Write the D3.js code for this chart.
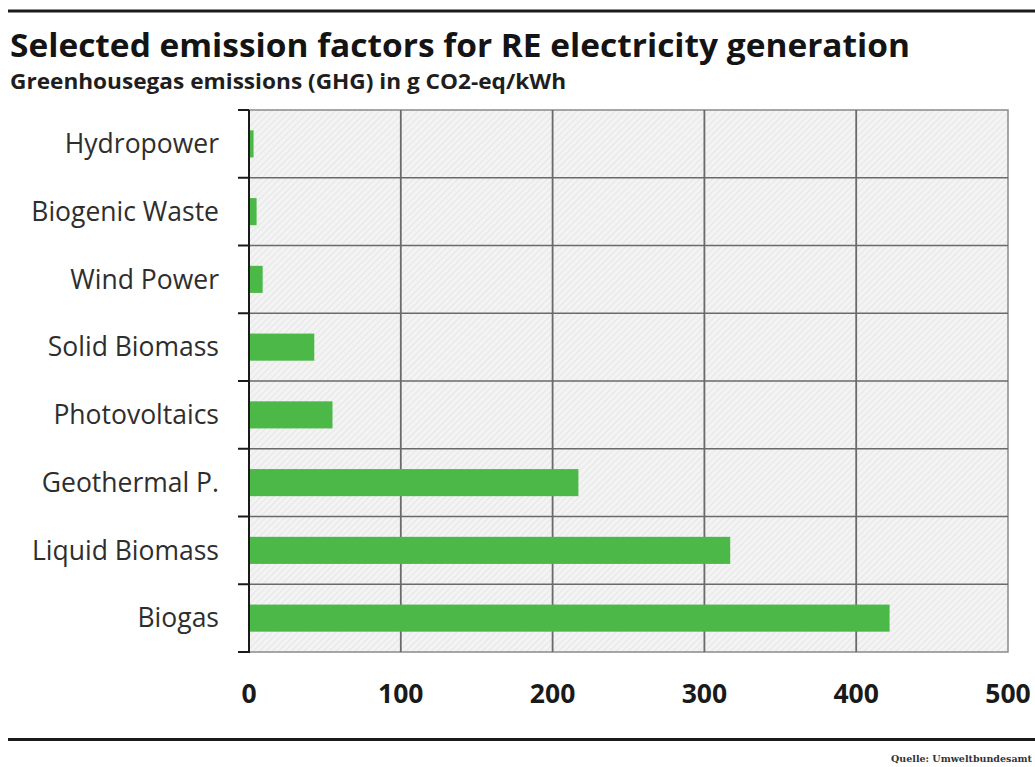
<!DOCTYPE html>
<html>
<head>
<meta charset="utf-8">
<script src="https://cdn.jsdelivr.net/npm/d3@7"></script>
<style>
  html, body { margin: 0; padding: 0; background: #fff; }
  svg { display: block; }
</style>
</head>
<body>
<svg id="chart" width="1035" height="767"></svg>
<script>
// Greenhouse gas emission factors by renewable source, g CO2-eq/kWh
const categories = ["Hydropower", "Biogenic Waste", "Wind Power", "Solid Biomass",
                    "Photovoltaics", "Geothermal P.", "Liquid Biomass", "Biogas"];
const emissions = [3, 5, 9, 43, 55, 217, 317, 422];
const xTicks = [0, 100, 200, 300, 400, 500];

const titleText = "Selected emission factors for RE electricity generation";
const subtitleText = "Greenhousegas emissions (GHG) in g CO2-eq/kWh";
const sourceText = "Quelle: Umweltbundesamt";

const svg = d3.select("#chart");
const plot = { left: 249, right: 1008, top: 110, bottom: 652 };

const x = d3.scaleLinear().domain([0, 500]).range([plot.left, plot.right]);
const y = d3.scaleBand().domain(categories).range([plot.top, plot.bottom]).padding(0);

// diagonal hatch fill for the plot background
const defs = svg.append("defs");
const pat = defs.append("pattern")
  .attr("id", "hatch")
  .attr("patternUnits", "userSpaceOnUse")
  .attr("width", 4.5).attr("height", 4.5)
  .attr("patternTransform", "rotate(45)");
pat.append("rect").attr("width", 4.5).attr("height", 4.5).attr("fill", "#f3f3f3");
pat.append("line").attr("x1", 0).attr("y1", 0).attr("x2", 0).attr("y2", 4.5)
  .attr("stroke", "#dcdcdc").attr("stroke-width", 1.1);

// top and bottom rules
svg.append("rect").attr("x", 8).attr("y", 9.5).attr("width", 1027).attr("height", 3).attr("fill", "#1a1a1a");
svg.append("rect").attr("x", 8).attr("y", 738).attr("width", 1027).attr("height", 3).attr("fill", "#1a1a1a");

// headings
function fitText(sel, w) {
  sel.attr("textLength", w).attr("lengthAdjust", "spacingAndGlyphs");
}
svg.append("text").attr("x", 10).attr("y", 57)
  .attr("font-family", "'Open Sans', sans-serif").attr("font-weight", 700)
  .attr("font-size", 33).attr("fill", "#141414")
  .text(titleText).call(fitText, 900);
svg.append("text").attr("x", 10).attr("y", 89)
  .attr("font-family", "'Open Sans', sans-serif").attr("font-weight", 700)
  .attr("font-size", 21).attr("fill", "#1e1e1e")
  .text(subtitleText).call(fitText, 556);

// plot background
svg.append("rect")
  .attr("x", plot.left).attr("y", plot.top)
  .attr("width", plot.right - plot.left).attr("height", plot.bottom - plot.top)
  .attr("fill", "url(#hatch)")
  .attr("stroke", "#8a8a8a").attr("stroke-width", 1.5);

// horizontal row separators
svg.append("g").selectAll("line")
  .data(categories.slice(1))
  .join("line")
  .attr("x1", plot.left).attr("x2", plot.right)
  .attr("y1", d => y(d)).attr("y2", d => y(d))
  .attr("stroke", "#6a6a6a").attr("stroke-width", 1.5);

// vertical grid lines
svg.append("g").selectAll("line")
  .data(xTicks.slice(1, -1))
  .join("line")
  .attr("x1", d => x(d)).attr("x2", d => x(d))
  .attr("y1", plot.top).attr("y2", plot.bottom)
  .attr("stroke", "#6a6a6a").attr("stroke-width", 1.8);

// bars
const barH = y.bandwidth() * 0.4;
svg.append("g").selectAll("rect")
  .data(categories)
  .join("rect")
  .attr("x", x(0))
  .attr("y", d => y(d) + (y.bandwidth() - barH) / 2)
  .attr("width", (d, i) => x(emissions[i]) - x(0))
  .attr("height", barH)
  .attr("fill", "#4cb848");

// category axis on the left
const yAxis = svg.append("g").attr("transform", `translate(${plot.left},0)`);
yAxis.append("line")
  .attr("x1", 0).attr("x2", 0).attr("y1", plot.top).attr("y2", plot.bottom + 1)
  .attr("stroke", "#1a1a1a").attr("stroke-width", 2);
const boundaries = categories.map(d => y(d)).concat([plot.bottom]);
yAxis.selectAll(".tick-mark")
  .data(boundaries)
  .join("line")
  .attr("class", "tick-mark")
  .attr("x1", -11).attr("x2", 0)
  .attr("y1", d => d).attr("y2", d => d)
  .attr("stroke", "#1a1a1a").attr("stroke-width", 2);
yAxis.selectAll(".cat-label")
  .data(categories)
  .join("text")
  .attr("class", "cat-label")
  .attr("x", -30)
  .attr("y", d => y(d) + y.bandwidth() / 2)
  .attr("dy", "0.35em")
  .attr("text-anchor", "end")
  .attr("font-family", "'Open Sans', sans-serif")
  .attr("font-size", 26.5)
  .attr("fill", "#2e2e2e")
  .text(d => d);

// value axis labels
svg.append("g").selectAll("text")
  .data(xTicks)
  .join("text")
  .attr("x", d => x(d))
  .attr("y", 703)
  .attr("text-anchor", "middle")
  .attr("font-family", "'Open Sans', sans-serif")
  .attr("font-weight", 700)
  .attr("font-size", 26.5)
  .attr("fill", "#1a1a1a")
  .text(d => d);

// source note
svg.append("text").attr("x", 1032).attr("y", 762)
  .attr("text-anchor", "end")
  .attr("font-family", "'DejaVu Serif', 'Liberation Serif', serif")
  .attr("font-weight", 700)
  .attr("font-size", 9.5).attr("fill", "#333")
  .text(sourceText);
</script>
</body>
</html>
